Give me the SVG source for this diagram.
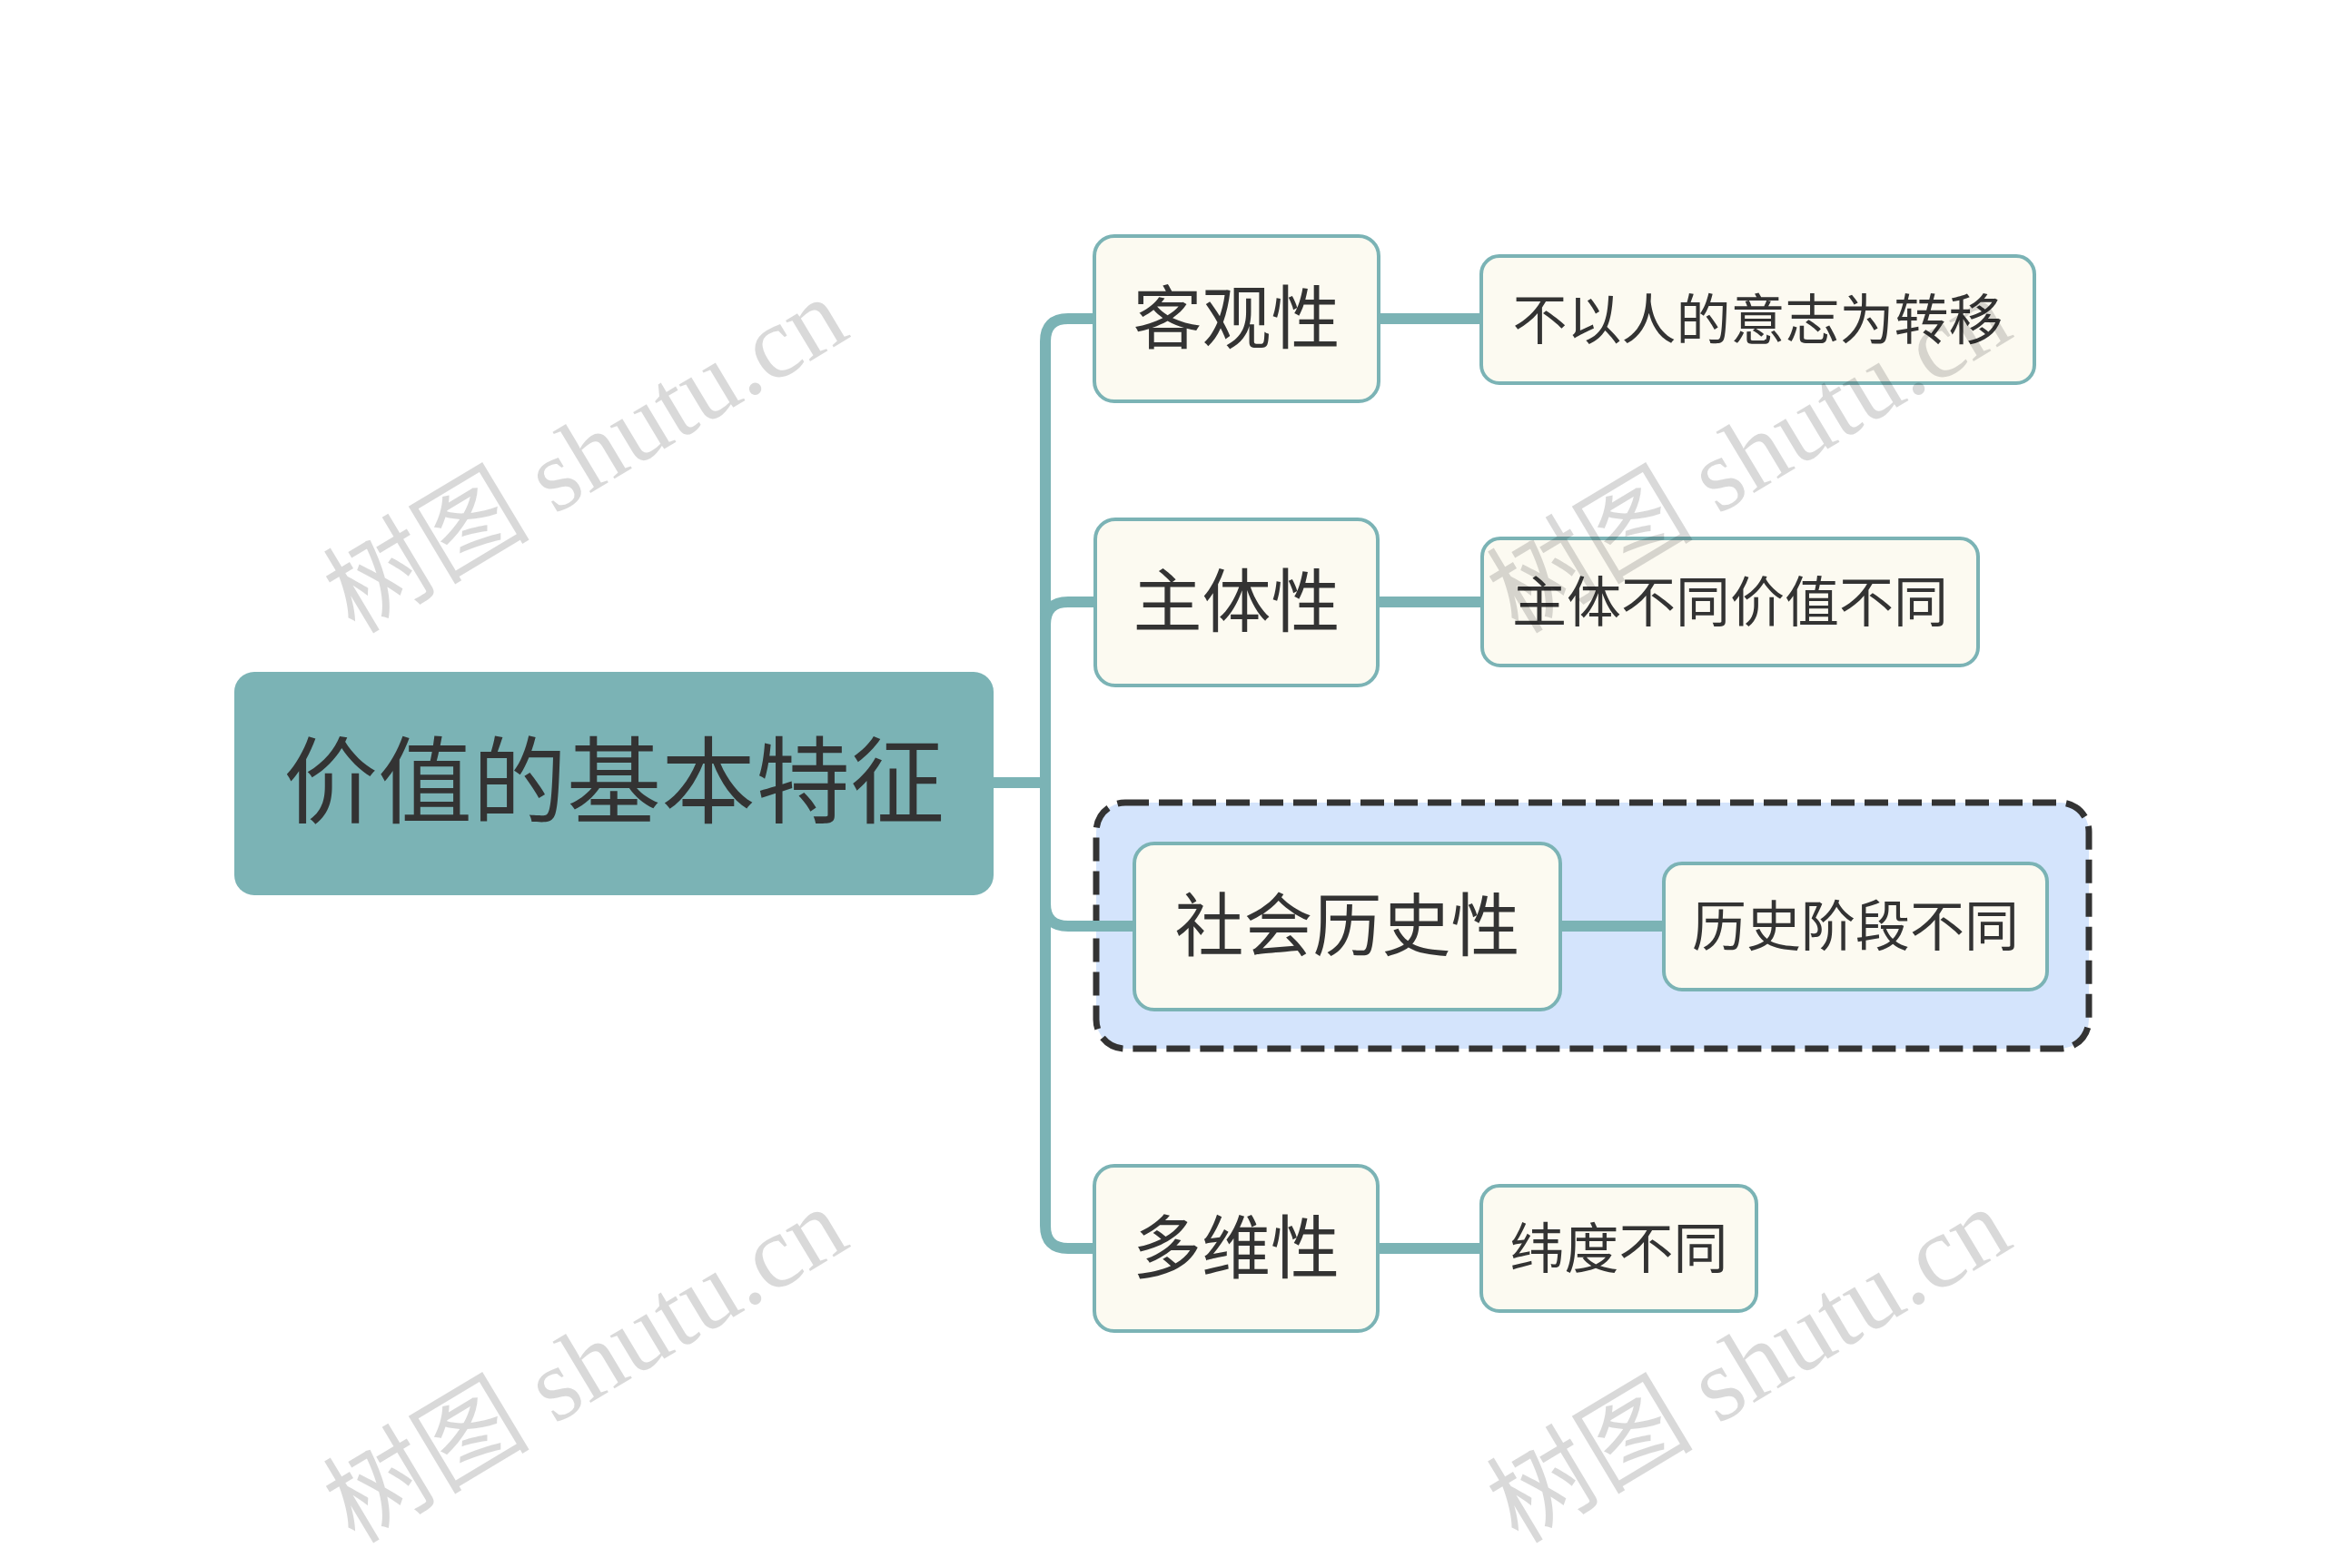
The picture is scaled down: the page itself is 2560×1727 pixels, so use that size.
<svg xmlns="http://www.w3.org/2000/svg" width="2560" height="1727" viewBox="0 0 2560 1727">
<style>
.cn{stroke:#7BB3B5;stroke-width:12;fill:none;stroke-linecap:butt}
.l1{fill:#FCFAF1;stroke:#7BB3B5;stroke-width:4}
.l2{fill:#FCFAF1;stroke:#7BB3B5;stroke-width:4}
.t{font-family:"Noto Sans CJK SC","Noto Sans",sans-serif;fill:#333333;text-anchor:middle}
.t1{font-size:76px}
.t2{font-size:60px}
.wm{font-family:"Liberation Serif","Noto Sans CJK SC",serif;font-size:114px;fill:#000000;fill-opacity:0.15;text-anchor:middle}
</style>
<rect width="2560" height="1727" fill="#FFFFFF"/>
<g id="group-boundary">
<rect x="1207" y="884" width="1093" height="271" rx="32" fill="#D4E4FC" stroke="#333333" stroke-width="7" stroke-dasharray="26 11"/>
</g>
<g id="connectors">
<path class="cn" d="M1094 862 H1151 V376 Q1151 351 1176 351 H1207"/>
<path class="cn" d="M1151 862 V688 Q1151 663 1176 663 H1208"/>
<path class="cn" d="M1151 862 V995 Q1151 1020 1176 1020 H1251"/>
<path class="cn" d="M1151 862 V1350 Q1151 1375 1176 1375 H1207"/>
<path class="cn" d="M1518 351 H1633"/>
<path class="cn" d="M1517 663 H1634"/>
<path class="cn" d="M1717 1020 H1834"/>
<path class="cn" d="M1516 1375 H1633"/>
</g>
<g id="root">
<rect x="258" y="740" width="836" height="246" rx="22" fill="#7BB3B5"/>
<text class="t" x="676" y="899" font-size="104">价值的基本特征</text>
</g>
<g id="n-keguanxing">
<rect class="l1" x="1205" y="260" width="313" height="182" rx="22"/>
<text class="t t1" x="1361.5" y="378">客观性</text>
</g>
<g id="n-keguanxing-child">
<rect class="l2" x="1631" y="282" width="609" height="140" rx="20"/>
<text class="t t2" x="1935.5" y="374">不以人的意志为转移</text>
</g>
<g id="n-zhutixing">
<rect class="l1" x="1206" y="572" width="311" height="183" rx="22"/>
<text class="t t1" x="1361.5" y="690">主体性</text>
</g>
<g id="n-zhutixing-child">
<rect class="l2" x="1632" y="593" width="546" height="140" rx="20"/>
<text class="t t2" x="1905" y="685">主体不同价值不同</text>
</g>
<g id="n-shehuilishixing">
<rect class="l1" x="1249" y="929" width="469" height="183" rx="22"/>
<text class="t t1" x="1483.5" y="1047">社会历史性</text>
</g>
<g id="n-shehuilishixing-child">
<rect class="l2" x="1832" y="951" width="422" height="139" rx="20"/>
<text class="t t2" x="2043" y="1042">历史阶段不同</text>
</g>
<g id="n-duoweixing">
<rect class="l1" x="1205" y="1284" width="312" height="182" rx="22"/>
<text class="t t1" x="1361" y="1402">多维性</text>
</g>
<g id="n-duoweixing-child">
<rect class="l2" x="1631" y="1306" width="303" height="138" rx="20"/>
<text class="t t2" x="1782.5" y="1397">纬度不同</text>
</g>
<g id="watermarks">
<text class="wm" transform="translate(645 502) rotate(-31)" y="38">树图 shutu.cn</text>
<text class="wm" transform="translate(1926 502) rotate(-31)" y="38">树图 shutu.cn</text>
<text class="wm" transform="translate(645 1504) rotate(-31)" y="38">树图 shutu.cn</text>
<text class="wm" transform="translate(1926 1504) rotate(-31)" y="38">树图 shutu.cn</text>
</g>
</svg>
